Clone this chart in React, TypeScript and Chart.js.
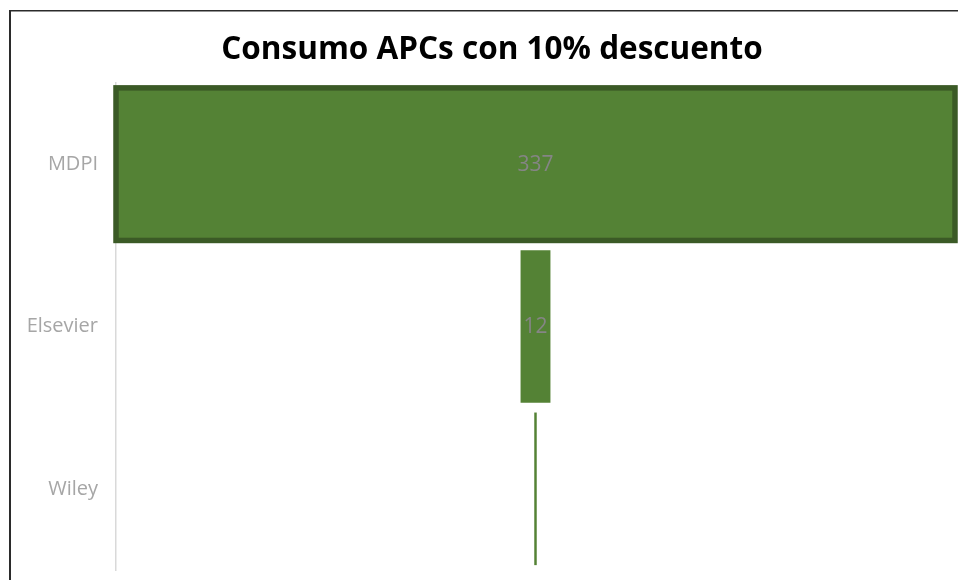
import React, { useEffect, useRef } from "react";
import { Chart, registerables } from "chart.js";

Chart.register(...registerables);

const categories = ["MDPI", "Elsevier", "Wiley"];
const values = [337, 12, 1];
const title = "Consumo APCs con 10% descuento";
const maxValue = 337;

const FILL = "#548235";
const SEL = "#3b5a26";
const FONT = "'Open Sans', sans-serif";

export default function App() {
  const ref = useRef<HTMLCanvasElement>(null);
  useEffect(() => {
    const canvas = ref.current!;
    const framePlugin = {
      id: "frame",
      beforeDraw(chart: any) {
        const ctx = chart.ctx;
        ctx.save();
        ctx.fillStyle = "#ffffff";
        ctx.fillRect(0, 0, chart.width, chart.height);
        ctx.fillStyle = "#2b2b2b";
        ctx.fillRect(9, 10, chart.width, 1.5);
        ctx.fillRect(9, 10, 2, chart.height);
        ctx.font = `bold 31.5px ${FONT}`;
        ctx.fillStyle = "#000000";
        ctx.textAlign = "center";
        ctx.textBaseline = "alphabetic";
        ctx.fillText(title, 492, 59);
        ctx.restore();
      },
      afterDatasetsDraw(chart: any) {
        const ctx = chart.ctx;
        const meta = chart.getDatasetMeta(0);
        ctx.save();
        const el0 = meta.data[0];
        const p = el0.getProps(["x", "y", "base", "height"], true);
        const left = Math.min(p.x, p.base);
        const right = Math.max(p.x, p.base);
        ctx.strokeStyle = SEL;
        ctx.lineWidth = 5.5;
        ctx.strokeRect(left, p.y - p.height / 2, right - left, p.height);
        ctx.font = `21px ${FONT}`;
        ctx.fillStyle = "#858585";
        ctx.textAlign = "center";
        ctx.textBaseline = "middle";
        meta.data.forEach((el: any, i: number) => {
          const q = el.getProps(["x", "y", "base"], true);
          const w = Math.abs(q.x - q.base);
          const txt = String(values[i]);
          if (w >= ctx.measureText(txt).width) {
            ctx.fillText(txt, (q.x + q.base) / 2, q.y + 1);
          }
        });
        ctx.restore();
      },
    };
    const chart = new Chart(canvas, {
      type: "bar",
      data: {
        labels: categories,
        datasets: [
          {
            data: values.map((v) => [-v / 2, v / 2]) as any,
            backgroundColor: FILL,
            borderWidth: 0,
            barPercentage: 0.94,
            categoryPercentage: 1,
          },
        ],
      },
      options: {
        indexAxis: "y",
        responsive: false,
        animation: false,
        devicePixelRatio: 1,
        layout: { padding: { left: 0, top: 83, right: 3, bottom: 10 } },
        plugins: { legend: { display: false }, tooltip: { enabled: false }, title: { display: false } },
        scales: {
          x: { display: false, min: -maxValue / 2, max: maxValue / 2 },
          y: {
            afterFit(scale: any) {
              scale.width = 116;
              scale.paddingTop = 0;
              scale.paddingBottom = 0;
            },
            grid: { display: false, drawTicks: false },
            border: { display: true, color: "#d9d9d9", width: 1.5 },
            ticks: {
              padding: 18,
              color: "#a6a6a6",
              font: { family: FONT, size: 20 },
            },
          },
        },
      },
      plugins: [framePlugin],
    });
    return () => chart.destroy();
  }, []);
  return (
    <canvas
      ref={ref}
      width={958}
      height={580}
      style={{ position: "fixed", left: 0, top: 0, width: 958, height: 580 }}
    />
  );
}
